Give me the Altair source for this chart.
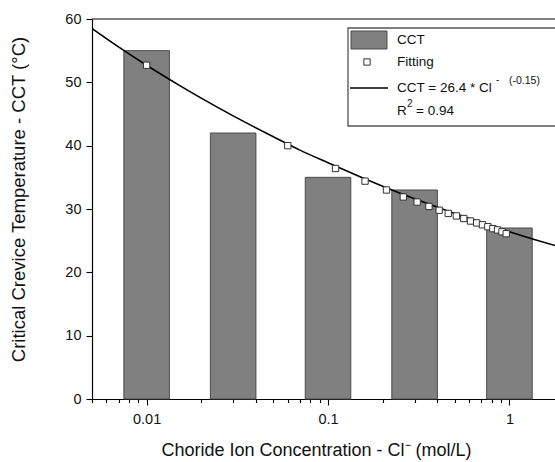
import altair as alt
import pandas as pd

# ---------------- data ----------------
bar_conc = [0.01, 0.03, 0.1, 0.3, 1.0]
bar_cct = [55, 42, 35, 33, 27]

fit_conc = [0.01, 0.06, 0.11, 0.16, 0.21, 0.26, 0.31, 0.36, 0.41, 0.46, 0.51,
            0.56, 0.61, 0.66, 0.71, 0.76, 0.81, 0.86, 0.91, 0.96]
fit_cct = [52.7, 40.0, 36.4, 34.4, 33.0, 31.9, 31.1, 30.4, 29.8, 29.3, 28.9,
           28.5, 28.1, 27.8, 27.5, 27.2, 26.9, 26.7, 26.4, 26.1]

curve_conc = [0.005, 0.007, 0.01, 0.015, 0.02, 0.03, 0.05, 0.07, 0.1, 0.15,
              0.2, 0.3, 0.5, 0.7, 1.0, 1.4, 1.8]
curve_cct = [58.5, 55.6, 52.7, 49.6, 47.5, 44.7, 41.4, 39.3, 37.3, 35.1,
             33.6, 31.6, 29.3, 27.9, 26.4, 25.1, 24.2]

x_ticks = [0.005, 0.006, 0.007, 0.008, 0.009, 0.01, 0.02, 0.03, 0.04, 0.05,
           0.06, 0.07, 0.08, 0.09, 0.1, 0.2, 0.3, 0.4, 0.5, 0.6, 0.7, 0.8,
           0.9, 1.0]
y_ticks = [0, 5, 10, 15, 20, 25, 30, 35, 40, 45, 50, 55, 60]

# bar width in log space (half width as a multiplicative factor)
BAR_HALF = 1.335

bars = pd.DataFrame({
    "lo": [c / BAR_HALF for c in bar_conc],
    "hi": [c * BAR_HALF for c in bar_conc],
    "cct": bar_cct,
})
fits = pd.DataFrame({"c": fit_conc, "cct": fit_cct})
curve = pd.DataFrame({"c": curve_conc, "cct": curve_cct})

FONT = "Liberation Sans"
W, H = 463, 380

xscale = alt.Scale(type="log", domain=[0.005, 1.783], nice=False)
yscale = alt.Scale(domain=[0, 60], nice=False, zero=True)

x_axis = alt.Axis(
    values=x_ticks,
    labelExpr="datum.value == 0.01 ? '0.01' : datum.value == 0.1 ? '0.1' : datum.value == 1 ? '1' : ''",
    tickSize={"condition": {"test": "datum.value == 0.01 || datum.value == 0.1 || datum.value == 1", "value": 6}, "value": 3.5},
    labelOverlap=False, labelFlush=False, labelBound=False,
    grid=False, title="Choride Ion Concentration - Cl\u207b (mol/L)",
    labelFontSize=14.5, titleFontSize=18, labelPadding=7, titlePadding=16,
    titleFontWeight="normal", labelFont=FONT, titleFont=FONT,
    labelColor="#111", titleColor="#111",
    titleX=224,
)
y_axis = alt.Axis(
    values=y_ticks,
    labelExpr="datum.value % 10 == 0 ? datum.label : ''",
    tickSize={"condition": {"test": "datum.value % 10 == 0", "value": 6}, "value": 3.5},
    labelOverlap=False, labelFlush=False, labelBound=False,
    grid=False, title="Critical Crevice Temperature - CCT (\u00b0C)",
    labelFontSize=14.5, titleFontSize=18.5, labelPadding=5, titlePadding=36,
    titleFontWeight="normal", labelFont=FONT, titleFont=FONT,
    labelColor="#111", titleColor="#111",
    titleY=180,
)

bar_layer = alt.Chart(bars).mark_rect(
    fill="#808080", stroke="#4a4a4a", strokeWidth=1
).encode(
    x=alt.X("lo:Q", scale=xscale, axis=x_axis),
    x2="hi:Q",
    y=alt.Y("cct:Q", scale=yscale, axis=y_axis),
    y2=alt.datum(0),
)

curve_layer = alt.Chart(curve).mark_line(
    color="black", strokeWidth=1.6, interpolate="monotone", clip=True
).encode(x=alt.X("c:Q", scale=xscale), y=alt.Y("cct:Q", scale=yscale))

fit_layer = alt.Chart(fits).mark_square(
    fill="white", stroke="#333333", strokeWidth=1, size=40, opacity=1
).encode(x=alt.X("c:Q", scale=xscale), y=alt.Y("cct:Q", scale=yscale))

one = pd.DataFrame({"a": [0]})
top_line = alt.Chart(one).mark_rule(color="black", strokeWidth=1.2).encode(
    x=alt.value(0), x2=alt.value(W + 20), y=alt.value(0))

# ---------------- hand-drawn legend box ----------------
leg_box = alt.Chart(one).mark_rect(
    fill="white", stroke="#555555", strokeWidth=1.3).encode(
    x=alt.value(256), x2=alt.value(W + 20), y=alt.value(9), y2=alt.value(107))
leg_sw = alt.Chart(one).mark_rect(
    fill="#808080", stroke="#4a4a4a", strokeWidth=1).encode(
    x=alt.value(259), x2=alt.value(295), y=alt.value(12), y2=alt.value(30))
leg_sq = alt.Chart(one).mark_square(
    fill="white", stroke="#333333", strokeWidth=1, size=40, opacity=1).encode(
    x=alt.value(275), y=alt.value(43))
leg_ln = alt.Chart(one).mark_rule(color="black", strokeWidth=1.6).encode(
    x=alt.value(258), x2=alt.value(296), y=alt.value(69))


def txt(s, x, y, size=13.5):
    return alt.Chart(one).mark_text(
        align="left", baseline="middle", font=FONT, fontSize=size, color="#111"
    ).encode(x=alt.value(x), y=alt.value(y), text=alt.value(s))


leg_texts = [
    txt("CCT", 305, 21),
    txt("Fitting", 305, 43),
    txt("CCT = 26.4 * Cl", 305, 69),
    txt("-", 404, 61, 10),
    txt("(-0.15)", 417, 62, 10.5),
    txt("R", 305, 92),
    txt("2", 315, 85, 10),
    txt("= 0.94", 324, 92),
]

chart = alt.layer(
    bar_layer, curve_layer, fit_layer, top_line, leg_box, leg_sw, leg_sq, leg_ln,
    *leg_texts
).properties(
    width=W, height=H,
    autosize=alt.AutoSizeParams(type="none"),
    padding={"left": 92, "top": 19, "right": 0, "bottom": 63},
    background="white",
).configure_view(stroke=None).configure_axis(
    domainColor="black", domainWidth=1.2, tickColor="black", tickWidth=1.1,
)

chart.save("out.html", embed_options={"renderer": "svg", "actions": False})
